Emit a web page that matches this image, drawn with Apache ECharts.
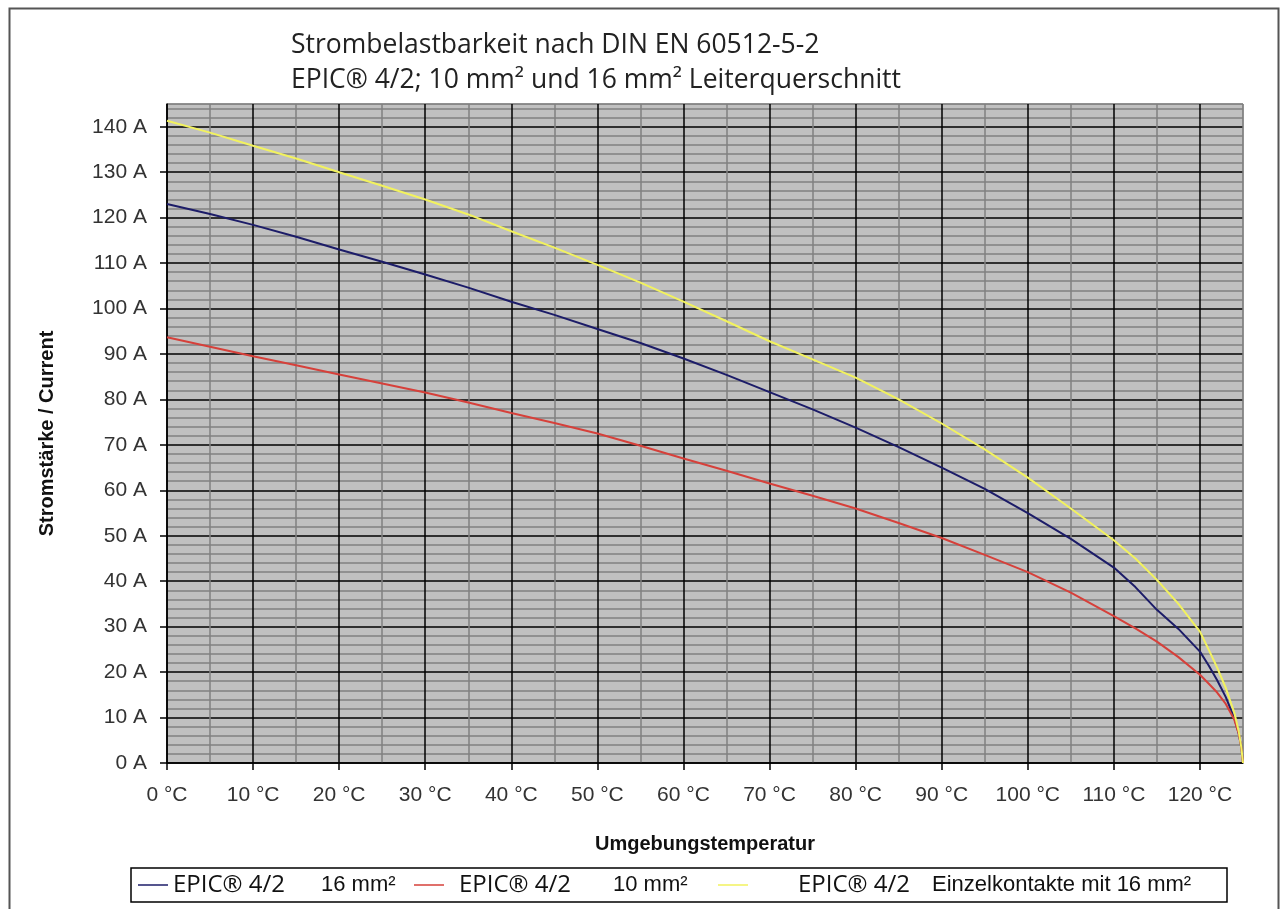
<!DOCTYPE html>
<html>
<head>
<meta charset="utf-8">
<script src="https://cdn.jsdelivr.net/npm/echarts@6/dist/echarts.min.js"></script>
<style>html,body{margin:0;padding:0;background:#fff;}#c{width:1281px;height:909px;}</style>
</head>
<body>
<div id="c"></div>
<script>
const titleLines = ['Strombelastbarkeit nach DIN EN 60512-5-2', 'EPIC® 4/2; 10 mm² und 16 mm² Leiterquerschnitt'];
const xName = 'Umgebungstemperatur';
const yName = 'Stromstärke / Current';
const seriesNames = ['EPIC® 4/2    16 mm²', 'EPIC® 4/2    10 mm²', 'EPIC® 4/2 Einzelkontakte mit 16 mm²'];
const temps = [0,5,10,15,20,25,30,35,40,45,50,55,60,65,70,75,80,85,90,95,100,105,110,112.5,115,117.5,120,121,122,123,124,124.5,124.8,125];
const blue16 = [123,120.8,118.4,115.8,113,110.3,107.5,104.6,101.5,98.6,95.5,92.4,89,85.4,81.6,77.8,73.8,69.5,65,60.3,55,49.3,43,38.7,33.7,29.5,24.5,21.5,18.2,14.5,9.8,6.5,3.5,0];
const red10 = [93.7,91.6,89.5,87.5,85.5,83.5,81.5,79.3,77,74.8,72.5,69.8,67,64.3,61.5,58.8,56,52.8,49.5,45.8,42,37.5,32.3,29.6,26.7,23.3,19.4,17.5,15.5,13,9.5,6.5,3.5,0];
const yellow16 = [141.3,138.7,135.8,133,130,127,124,120.7,117,113.4,109.6,105.7,101.5,97.2,92.8,88.8,84.8,80,74.7,69,62.8,56,49,45,40.3,35,28.9,25,21,16.5,11,7,3.5,0];
const seriesColors = ['#1c1c68', '#d6403a', '#f2f25e'];

const pairs = v => temps.map((t, i) => [t, v[i]]);
const chart = echarts.init(document.getElementById('c'));
const labelFont = 'Liberation Sans';
const legA = {fontFamily: 'Open Sans', fontSize: 24, color: '#111', lineHeight: 25};
const legB = {fontFamily: labelFont, fontSize: 22, color: '#111', lineHeight: 25};
chart.setOption({
  animation: false,
  backgroundColor: '#fff',
  title: {
    text: titleLines.join('\n'),
    left: 286, top: 23,
    textStyle: {fontFamily: 'Open Sans', fontSize: 26.5, fontWeight: 'normal', color: '#222', lineHeight: 35}
  },
  graphic: [{
    type: 'rect', left: 7, top: 6, shape: {width: 1269, height: 920},
    style: {fill: 'none', stroke: '#555', lineWidth: 2}, silent: true, z: -1
  }],
  grid: {left: 167, right: 38, top: 104, bottom: 146, show: true, backgroundColor: '#c0c0c0', borderColor: '#808080', borderWidth: 1},
  legend: {
    left: 131, top: 868, padding: [5, 8, 5, 7], itemGap: 0,
    borderColor: '#000', borderWidth: 1.5,
    icon: 'rect', itemWidth: 30, itemHeight: 1.5,
    data: seriesNames,
    formatter: function (name) {
      const k = seriesNames.indexOf(name) + 1;
      return '{a' + k + '|' + name.slice(0, 9) + '}{b' + k + '|' + name.slice(9).trim() + '}';
    },
    textStyle: {
      rich: {
        a1: Object.assign({width: 148}, legA),
        b1: Object.assign({width: 93}, legB),
        a2: Object.assign({width: 154, padding: [0, 0, 0, 10]}, legA),
        b2: Object.assign({width: 105}, legB),
        a3: Object.assign({width: 134, padding: [0, 0, 0, 45]}, legA),
        b3: Object.assign({width: 287}, legB)
      }
    }
  },
  xAxis: [{
    type: 'value', min: 0, max: 125, interval: 5, position: 'bottom',
    axisLine: {show: true, lineStyle: {color: '#000', width: 1.5}},
    axisTick: {show: false}, axisLabel: {show: false},
    splitLine: {show: true, lineStyle: {color: ['#000', '#808080'], width: 1.5}}
  }, {
    type: 'value', min: 0, max: 125, interval: 10, position: 'bottom',
    name: xName, nameLocation: 'middle', nameGap: 71,
    nameTextStyle: {fontFamily: labelFont, fontSize: 20, fontWeight: 'bold', color: '#111'},
    axisLine: {show: false},
    axisTick: {show: true, length: 7, lineStyle: {color: '#000', width: 1.5}},
    axisLabel: {show: true, margin: 22, showMaxLabel: false, formatter: '{value} °C', fontFamily: labelFont, fontSize: 21, color: '#333'},
    splitLine: {show: false}
  }],
  yAxis: [{
    type: 'value', min: 0, max: 145, interval: 2, position: 'left',
    axisLine: {show: true, lineStyle: {color: '#000', width: 1.5}},
    axisTick: {show: false}, axisLabel: {show: false},
    splitLine: {show: true, lineStyle: {color: ['#000', '#808080', '#808080', '#808080', '#808080'], width: 1.5}}
  }, {
    type: 'value', min: 0, max: 145, interval: 10, position: 'left',
    name: yName, nameLocation: 'middle', nameGap: 110, nameRotate: 90,
    nameTextStyle: {fontFamily: labelFont, fontSize: 20, fontWeight: 'bold', color: '#111'},
    axisLine: {show: false},
    axisTick: {show: true, length: 7, lineStyle: {color: '#000', width: 1.5}},
    axisLabel: {show: true, margin: 20, showMaxLabel: false, formatter: '{value} A', fontFamily: labelFont, fontSize: 21, color: '#333'},
    splitLine: {show: false}
  }],
  series: [
    {name: seriesNames[0], type: 'line', data: pairs(blue16), xAxisIndex: 0, yAxisIndex: 0, showSymbol: false, lineStyle: {color: seriesColors[0], width: 2}, itemStyle: {color: seriesColors[0]}},
    {name: seriesNames[1], type: 'line', data: pairs(red10), xAxisIndex: 0, yAxisIndex: 0, showSymbol: false, lineStyle: {color: seriesColors[1], width: 2}, itemStyle: {color: seriesColors[1]}},
    {name: seriesNames[2], type: 'line', data: pairs(yellow16), xAxisIndex: 0, yAxisIndex: 0, showSymbol: false, lineStyle: {color: seriesColors[2], width: 2}, itemStyle: {color: seriesColors[2]}}
  ]
});
</script>
</body>
</html>
